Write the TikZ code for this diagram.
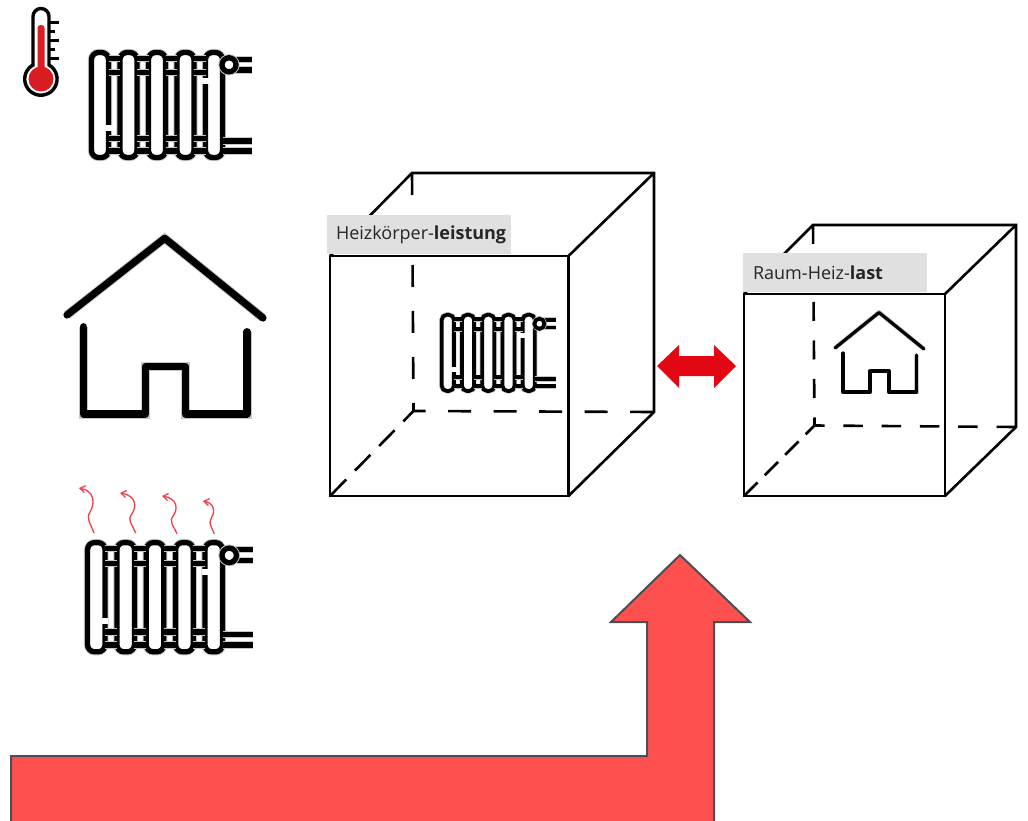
\documentclass[tikz,border=0pt]{standalone}
\usepackage{fontspec}
\setmainfont{Open Sans}
\usetikzlibrary{arrows.meta}
\definecolor{thermored}{HTML}{D81E23}
\definecolor{heatred}{HTML}{EE3F4A}
\definecolor{bigred}{HTML}{FF5050}
\definecolor{swapred}{HTML}{E30613}
\definecolor{bigline}{HTML}{4A4F55}
\definecolor{labelgray}{HTML}{E0E0E0}
\tikzset{
  radline/.style={line width=5.3pt,preaction={draw=black!22,line width=7.2pt}},
  radround/.style={rounded corners=7pt},
  houseline/.style={line width=7.2pt,line cap=round,line join=round,preaction={draw=black!22,line width=9pt}},
  smallhouse/.style={line width=3.2pt,line cap=round,line join=round,preaction={draw=black!22,line width=4.6pt}},
  cubeline/.style={line width=2.6pt,line join=miter},
  labelbox/.style={fill=labelgray,draw=none},
  labeltext/.style={anchor=west,font=\fontsize{18}{20}\selectfont,text=black!85},
  radiator/.pic={
    \foreach \x in {0,28.5,57,85.5,114}
      \draw[radline,radround,fill=white] (\x+2.5,2.5) rectangle (\x+19.5,107.5);
    \foreach \x in {0,28.5,57,85.5} {
      \draw[radline] (\x+19.5,8.5) -- (\x+31,8.5);
      \draw[radline] (\x+19.5,22.5) -- (\x+31,22.5);
      \draw[radline] (\x+19.5,88.5) -- (\x+31,88.5);
      \draw[radline] (\x+19.5,101) -- (\x+31,101);
    }
    \draw[line width=6.5pt,white] (19.5,75) -- (19.5,81);
    \draw[line width=6.5pt,white] (116.5,28) -- (116.5,34);
    \draw[radline] (134,9.3) -- (163,9.3);
    \draw[radline] (134,20) -- (163,20);
    \draw[radline,fill=white] (140,14.8) circle (7);
    \draw[radline] (134,91) -- (163,91);
    \draw[radline] (134,101) -- (163,101);
  },
  heatwave/.pic={
    \draw[heatred,line width=1.3pt,-{Straight Barb[length=5pt,width=7pt]}]
      (15,45) .. controls (11,34) and (7,31) .. (11,24) .. controls (16,16) and (16,3) .. (0,0);
  },
}
\begin{document}
\begin{tikzpicture}[x=1pt,y=-1pt]
\useasboundingbox (0,0) rectangle (1028,821);
\clip (0,0) rectangle (1028,821);
% thermometer
\draw[line width=3.4pt,fill=white] (33,65) -- (33,16.5) arc (180:360:8) -- (49,65) arc (-60:240:16.2) -- cycle;
\fill[thermored] (41,79) circle (12.5);
\fill[thermored,rounded corners=3pt] (37.5,72) rectangle (44.5,25);
\foreach \y/\l in {23/59,32/55,41/59,50/55,59/59}
  \draw[line width=3pt] (49,\y) -- (\l,\y);
% left icons
\pic at (89,50) {radiator};
\draw[houseline] (67,315) -- (164.7,238.3) -- (263,318);
\draw[houseline] (83.3,326.7) -- (83.3,414) -- (145.3,414) -- (145.3,366.7) -- (185.7,366.7) -- (185.7,414) -- (247,414) -- (247,331.7);
\pic[xscale=1.03,yscale=1.04] at (85,540) {radiator};
\foreach \x/\y/\sx/\sy in {79/488/1/1,120/493/1.05/.89,162/496/1/.84,203/501/.75/.73}
  \pic[xscale=\sx,yscale=\sy] at (\x,\y) {heatwave};
% first cube
\draw[cubeline] (330,256) -- (412,173) -- (654,173) -- (654,412) -- (568.5,496);
\draw[cubeline] (654,173) -- (568.5,256);
\draw[cubeline,dash pattern=on 22pt off 24pt] (412,173) -- (413.5,411);
\draw[cubeline,dash pattern=on 23pt off 22.5pt,dash phase=11pt] (413.5,411) -- (654,412);
\draw[cubeline,dash pattern=on 22pt off 12.5pt,dash phase=7.5pt] (413.5,411) -- (330,496);
\fill[labelbox] (327,215) rectangle (511,254);
\draw[cubeline] (330,256) rectangle (568.5,496);
\node[labeltext] (powerlabel) at (332.5,235) {Heizkörper-\textbf{leistung}};
\pic[xscale=.71,yscale=.725,radround/.style={rounded corners=5pt},radline/.style={line width=3.8pt,preaction={draw=black!22,line width=5.2pt}}] at (440,313) {radiator};
% second cube
\draw[cubeline] (744,294) -- (813,225) -- (1016,225) -- (1016,427) -- (945,496);
\draw[cubeline] (1016,225) -- (945,294);
\draw[cubeline,dash pattern=on 19pt off 19.5pt] (813,225) -- (814.5,425.5);
\draw[cubeline,dash pattern=on 19.5pt off 18.8pt,dash phase=9.5pt] (814.5,425.5) -- (1016,427);
\draw[cubeline,dash pattern=on 19pt off 10pt,dash phase=6.5pt] (814.5,425.5) -- (744,496);
\fill[labelbox] (743,253) rectangle (927,292);
\draw[cubeline] (744,294) rectangle (945,496);
\node[labeltext] (loadlabel) at (749.5,273) {Raum-Heiz-\textbf{last}};
\draw[smallhouse] (835,348) -- (879,312.5) -- (924,349);
\draw[smallhouse] (843,353) -- (843,392) -- (870,392) -- (870,371) -- (889,371) -- (889,392) -- (916.5,392) -- (916.5,355);
% arrows
\fill[swapred] (657,366) -- (679,345) -- (679,356) -- (714,356) -- (714,345) -- (736,366) -- (714,388) -- (714,376) -- (679,376) -- (679,388) -- cycle;
\draw[bigline,fill=bigred,line width=2pt] (11,756) -- (647,756) -- (647,622) -- (611,622) -- (680,555) -- (750,622) -- (714,622) -- (714,830) -- (11,830) -- cycle;
\end{tikzpicture}
\end{document}
